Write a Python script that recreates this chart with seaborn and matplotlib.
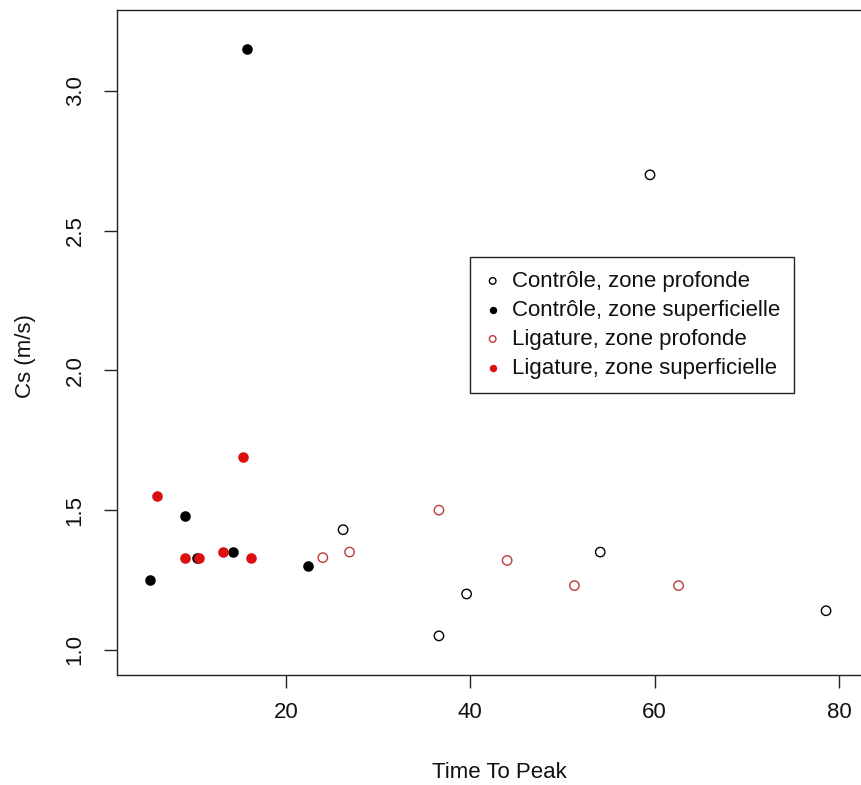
import matplotlib
matplotlib.use("Agg")
import matplotlib.pyplot as plt
import seaborn as sns
import pandas as pd

# Time to peak vs. shear-wave speed, by group and zone
ctrl_deep_ttp = [26.2, 36.6, 39.6, 54.1, 59.5, 78.6]
ctrl_deep_cs = [1.43, 1.05, 1.20, 1.35, 2.70, 1.14]

ctrl_surf_ttp = [5.2, 9.0, 10.4, 14.3, 15.8, 22.4]
ctrl_surf_cs = [1.25, 1.48, 1.33, 1.35, 3.15, 1.30]

lig_deep_ttp = [24.0, 26.9, 36.6, 44.0, 51.3, 62.6]
lig_deep_cs = [1.33, 1.35, 1.50, 1.32, 1.23, 1.23]

lig_surf_ttp = [6.0, 9.0, 10.6, 13.2, 16.2, 15.3]
lig_surf_cs = [1.55, 1.33, 1.33, 1.35, 1.33, 1.69]

group_labels = [
    "Contrôle, zone profonde",
    "Contrôle, zone superficielle",
    "Ligature, zone profonde",
    "Ligature, zone superficielle",
]
x_ticks = [20, 40, 60, 80]
y_ticks = [1.0, 1.5, 2.0, 2.5, 3.0]

frames = []
for lab, xs, ys in zip(group_labels,
                       [ctrl_deep_ttp, ctrl_surf_ttp, lig_deep_ttp, lig_surf_ttp],
                       [ctrl_deep_cs, ctrl_surf_cs, lig_deep_cs, lig_surf_cs]):
    frames.append(pd.DataFrame({"ttp": xs, "cs": ys, "group": lab}))
df = pd.concat(frames, ignore_index=True)

sns.set_style("white")
plt.rcParams["font.family"] = ["Liberation Sans", "DejaVu Sans"]
plt.rcParams["font.size"] = 16

fig = plt.figure(figsize=(8.62, 7.85), dpi=100)
ax = fig.add_axes([117 / 862, 110 / 785, 745 / 862, 665 / 785])

styles = {
    group_labels[0]: dict(facecolors="none", edgecolor="black", linewidth=1.0, s=46),
    group_labels[1]: dict(color="black", linewidth=0, s=58),
    group_labels[2]: dict(facecolors="none", edgecolor="#c03a3a", linewidth=1.0, s=46),
    group_labels[3]: dict(color="#dc0f0f", linewidth=0, s=58),
}
for lab in group_labels:
    sub = df[df["group"] == lab]
    sns.scatterplot(data=sub, x="ttp", y="cs", ax=ax, marker="o",
                    label=lab, legend=False, **styles[lab])

ax.set_xlim(1.67, 82.5)
ax.set_ylim(0.91, 3.29)
ax.set_xticks(x_ticks)
ax.set_xticklabels([str(t) for t in x_ticks])
ax.set_yticks(y_ticks)
ax.set_yticklabels([f"{t:.1f}" for t in y_ticks])

for side in ["left", "bottom", "top"]:
    ax.spines[side].set_color("#222222")
    ax.spines[side].set_linewidth(1.0)
ax.spines["right"].set_visible(False)

ax.tick_params(axis="both", direction="out", length=9.5, width=1.0,
               color="#222222", labelsize=16, labelcolor="#111111")
ax.tick_params(axis="x", pad=10, bottom=True)
ax.tick_params(axis="y", pad=13, left=True, labelrotation=90)
for t in ax.get_yticklabels():
    t.set_va("center")

ax.set_xlabel("Time To Peak", fontsize=16, color="#111111")
ax.set_ylabel("Cs (m/s)", fontsize=16, color="#111111")
ax.xaxis.set_label_coords((499 - 117) / 745, -0.131)
ax.yaxis.set_label_coords((36 - 117) / 745, 0.48)

handles, labels = ax.get_legend_handles_labels()
leg = ax.legend(handles, labels, loc="upper left",
                bbox_to_anchor=((470 - 117) / 745, (675 - 257) / 665),
                borderaxespad=0, frameon=True, fancybox=False,
                edgecolor="#222222", framealpha=1, fontsize=16,
                handlelength=0.8, handletextpad=0.48, labelspacing=0.36,
                borderpad=0.62, markerscale=0.7)
leg.get_frame().set_linewidth(1.0)
for txt in leg.get_texts():
    txt.set_color("#111111")

fig.savefig("out.png", dpi=100)
